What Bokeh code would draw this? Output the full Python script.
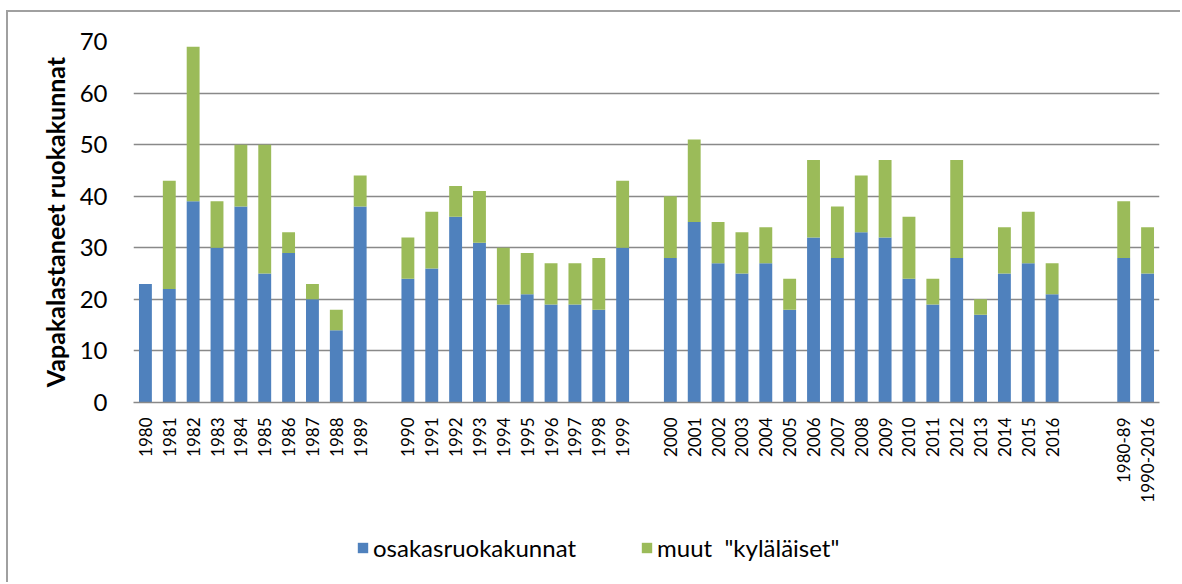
import math
from bokeh.plotting import figure
from bokeh.layouts import column
from bokeh.models import ColumnDataSource, Range1d, Legend, LegendItem, FixedTicker
from bokeh.embed import file_html
from bokeh.resources import INLINE

# ---- data ----
years_80s = ["1980", "1981", "1982", "1983", "1984", "1985", "1986", "1987", "1988", "1989"]
years_90s = ["1990", "1991", "1992", "1993", "1994", "1995", "1996", "1997", "1998", "1999"]
years_00s = ["2000", "2001", "2002", "2003", "2004", "2005", "2006", "2007", "2008",
             "2009", "2010", "2011", "2012", "2013", "2014", "2015", "2016"]
periods = ["1980-89", "1990-2016"]

osakas_80s = [23, 22, 39, 30, 38, 25, 29, 20, 14, 38]
muut_80s = [0, 21, 30, 9, 12, 25, 4, 3, 4, 6]
osakas_90s = [24, 26, 36, 31, 19, 21, 19, 19, 18, 30]
muut_90s = [8, 11, 6, 10, 11, 8, 8, 8, 10, 13]
osakas_00s = [28, 35, 27, 25, 27, 18, 32, 28, 33, 32, 24, 19, 28, 17, 25, 27, 21]
muut_00s = [12, 16, 8, 8, 7, 6, 15, 10, 11, 15, 12, 5, 19, 3, 9, 10, 6]
osakas_periods = [28, 25]
muut_periods = [11, 9]

series_names = ["osakasruokakunnat", 'muut  "kyläläiset"']
colors = ["#4F81BD", "#9BBB59"]
y_ticks = [0, 10, 20, 30, 40, 50, 60, 70]

categories = years_80s + years_90s + years_00s + periods
osakas = osakas_80s + osakas_90s + osakas_00s + osakas_periods
muut = muut_80s + muut_90s + muut_00s + muut_periods

# category slots; None entries are empty slots that make the gaps between groups
slots = years_80s + [None] + years_90s + [None] + years_00s + [None, None] + periods
xpos = [slots.index(c) + 0.5 for c in categories]

source = ColumnDataSource(dict(x=xpos, osakas=osakas, muut=muut))

FONT = "Lato"
W = 1180

p = figure(
    width=W, height=522,
    x_range=Range1d(0, len(slots)),
    y_range=Range1d(0, 70),
    output_backend="svg", toolbar_location=None,
    min_border_left=133, min_border_right=21, min_border_top=41, min_border_bottom=120,
)
p.outline_line_color = None
p.border_fill_alpha = 0
p.background_fill_alpha = 0

rs = p.vbar_stack(["osakas", "muut"], x="x", width=0.54, color=colors,
                  line_color=None, source=source)

# axes
p.yaxis.ticker = FixedTicker(ticks=y_ticks)
p.yaxis.axis_line_color = None
p.yaxis.major_tick_line_color = None
p.yaxis.major_tick_out = 0
p.yaxis.major_tick_in = 0
p.yaxis.minor_tick_line_color = None
p.yaxis.major_label_standoff = 26
p.yaxis.major_label_text_font = FONT
p.yaxis.major_label_text_font_size = "24px"
p.yaxis.major_label_text_color = "black"
p.yaxis.axis_label = "Vapakalastaneet ruokakunnat"
p.yaxis.axis_label_text_font = FONT
p.yaxis.axis_label_text_font_style = "bold"
p.yaxis.axis_label_text_font_size = "25px"
p.yaxis.axis_label_text_color = "black"
p.yaxis.axis_label_standoff = 7

p.xaxis.ticker = FixedTicker(ticks=xpos)
p.xaxis.major_label_overrides = {x: c for x, c in zip(xpos, categories)}
p.xaxis.axis_line_color = "#898989"
p.xaxis.axis_line_width = 1.5
p.xaxis.major_tick_line_color = None
p.xaxis.major_tick_out = 0
p.xaxis.major_tick_in = 0
p.xaxis.minor_tick_line_color = None
p.xaxis.major_label_orientation = math.pi / 2
p.xaxis.major_label_standoff = 15
p.xaxis.major_label_text_font = FONT
p.xaxis.major_label_text_font_size = "17px"
p.xaxis.major_label_text_color = "black"

p.xgrid.grid_line_color = None
p.ygrid.ticker = FixedTicker(ticks=y_ticks)
p.ygrid.grid_line_color = "#898989"
p.ygrid.grid_line_width = 1.5

# legend strip below the chart (swatch renderers sit outside the visible range)
p2 = figure(
    width=W, height=60, x_range=Range1d(0, 1), y_range=Range1d(0, 1),
    x_axis_type=None, y_axis_type=None,
    output_backend="svg", toolbar_location=None,
    min_border_left=0, min_border_right=0, min_border_top=0, min_border_bottom=0,
)
p2.grid.visible = False
p2.outline_line_color = None
p2.border_fill_alpha = 0
p2.background_fill_alpha = 0
swatch = ColumnDataSource(dict(x=[-10], top=[-10]))
lr = [p2.vbar(x="x", top="top", width=0.5, color=c, line_color=None, source=swatch)
      for c in colors]

legend = Legend(
    items=[LegendItem(label=series_names[0], renderers=[lr[0]]),
           LegendItem(label=series_names[1], renderers=[lr[1]])],
    orientation="horizontal", location=(223, 20),
    glyph_width=13, glyph_height=13, label_standoff=4, spacing=64,
    label_text_font=FONT, label_text_font_size="24px", label_text_color="black",
    border_line_color=None, background_fill_alpha=0, padding=0, margin=0,
)
p2.add_layout(legend, "center")

layout = column(p, p2, spacing=0)
layout.styles = {
    "background-image": "linear-gradient(#a0a0a0, #a0a0a0), linear-gradient(#a0a0a0, #a0a0a0)",
    "background-size": "2px 100%, 100% 2px",
    "background-position": "6px 10px, 6px 10px",
    "background-repeat": "no-repeat",
}

open("out.html", "w").write(file_html(layout, INLINE))
